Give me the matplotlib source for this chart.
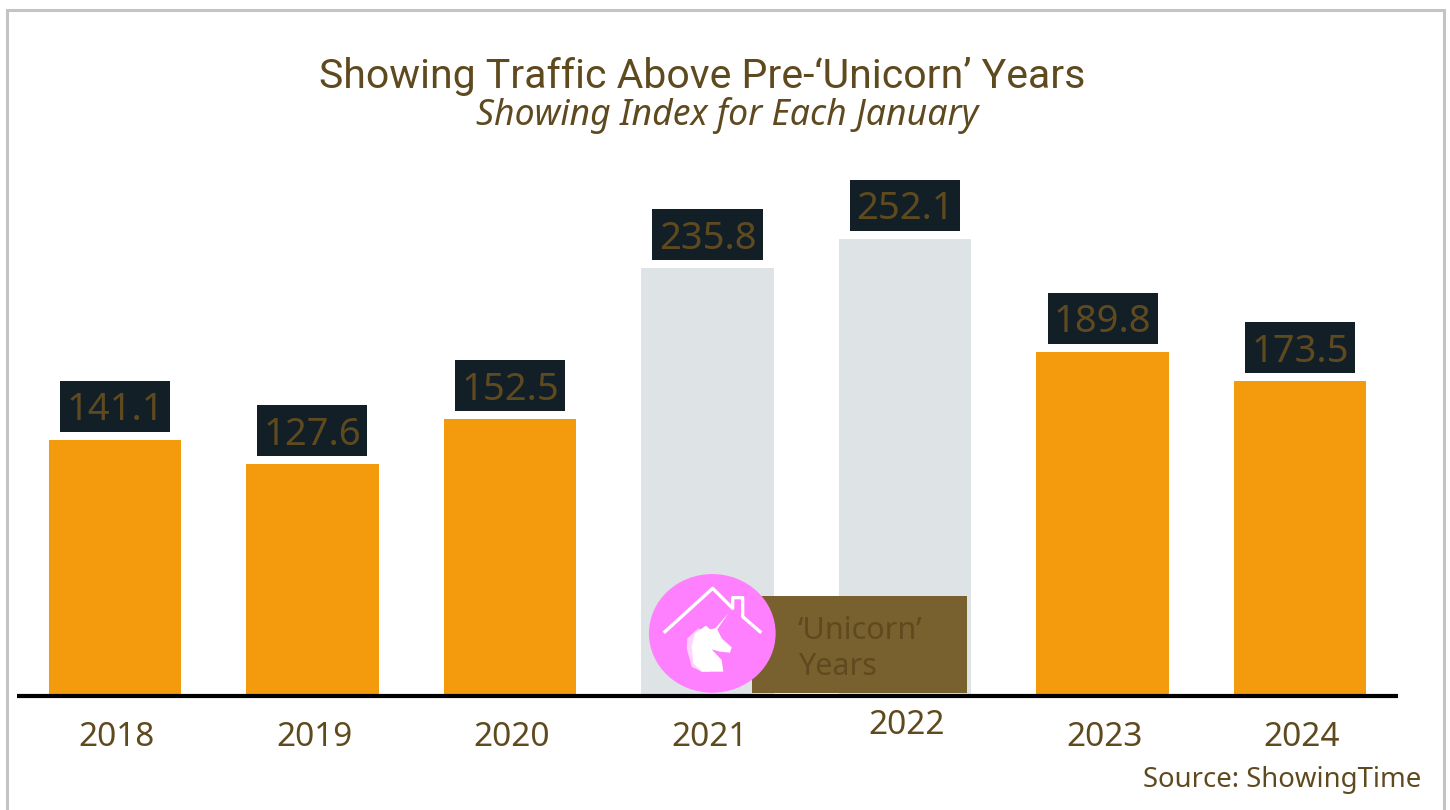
# showing traffic bars, Jan index by year
import matplotlib
matplotlib.use("Agg")
import matplotlib.pyplot as plt
from matplotlib.patches import Rectangle, Ellipse, Polygon
from matplotlib.lines import Line2D
from matplotlib.transforms import ScaledTranslation

years = ["2018", "2019", "2020", "2021", "2022", "2023", "2024"]
values = [141.1, 127.6, 152.5, 235.8, 252.1, 189.8, 173.5]
unicorn_years = ["2021", "2022"]

orange = "#F39A0D"
grey = "#DEE3E6"
brown = "#5F4A1F"
label_bg = "#121F27"
note_bg = "#78602F"
pink = "#FF80FF"

W = 1450
H = 810
fig = plt.figure(figsize=(14.5, 8.1), dpi=100)

# helper, picture pixels to figure fractions
def fx(x):
    return x / W
def fy(y):
    return 1 - y / H

# outer frame
fig.add_artist(Rectangle((fx(7), fy(830)), fx(1437), 820 / H, fill=False, edgecolor="#C4C4C4", linewidth=2.2, transform=fig.transFigure))

ax = fig.add_axes([fx(17), fy(695.5), fx(1381), 545.5 / H])
ax.patch.set_alpha(0)
ax.set_xlim(-0.496, 6.496)
ax.set_ylim(0, 545.5 / 1.812)

colors = [grey if y in unicorn_years else orange for y in years]
ax.bar(range(len(years)), values, width=0.672, color=colors, zorder=2)

# value labels sit in dark boxes just above the bars
box_w = 0.557
box_h = 28.2
box_gap = 4.4
for i, v in enumerate(values):
    ax.add_patch(Rectangle((i - box_w / 2, v + box_gap), box_w, box_h, facecolor=label_bg, edgecolor="none", zorder=3))
    ax.text(i, v + box_gap + box_h / 2 - 2.2, f"{v:.1f}", ha="center", va="center", fontsize=27.5, color=brown, family="Noto Sans", zorder=4)

for s in ["top", "left", "right"]:
    ax.spines[s].set_visible(False)
ax.spines["bottom"].set_linewidth(3)
ax.spines["bottom"].set_color("black")
ax.spines["bottom"].set_capstyle("butt")
ax.spines["bottom"].set_zorder(6)
ax.set_yticks([])
ax.set_xticks(range(len(years)))
ax.set_xticklabels(years, fontsize=24, color=brown, family="Noto Sans")
ax.tick_params(axis="x", length=0, pad=18)
# 2022 label sits a bit higher in the original
ax.xaxis.get_major_ticks()[4].set_pad(9.5)
# labels are a touch right of the bar centres
for lab in ax.get_xticklabels():
    lab.set_transform(lab.get_transform() + ScaledTranslation(2 / 100, 0, fig.dpi_scale_trans))

fig.text(fx(702), fy(77), "Showing Traffic Above Pre-\u2018Unicorn\u2019 Years", ha="center", va="center", fontsize=29.5, color=brown, family="Roboto")
fig.text(fx(727), fy(115), "Showing Index for Each January", ha="center", va="center", fontsize=25.6, color=brown, family="Noto Sans", style="italic")
fig.text(fx(1421), fy(780), "Source: ShowingTime", ha="right", va="center", fontsize=19.8, color=brown, family="Noto Sans")

# unicorn years note
fig.add_artist(Rectangle((fx(752), fy(693)), fx(215), 97 / H, facecolor=note_bg, edgecolor="none", transform=fig.transFigure, zorder=5))
fig.text(fx(798), fy(631), "\u2018Unicorn\u2019", ha="left", va="center", fontsize=22, color=brown, family="Noto Sans", zorder=6)
fig.text(fx(798), fy(667), "Years", ha="left", va="center", fontsize=22, color=brown, family="Noto Sans", zorder=6)

# badge: pink circle with house and unicorn head, pixels from the picture
badge = fig.add_axes([fx(630), fy(760), fx(350), 200 / H], zorder=7)
badge.set_xlim(630, 980)
badge.set_ylim(760, 560)
badge.axis("off")
badge.patch.set_alpha(0)
badge.add_patch(Ellipse((712.3, 633.4), 126.7, 118.7, facecolor=pink, edgecolor="none"))

def zoomed(pts):
    return [(630 + a / 3, 560 + b / 3) for a, b in pts]

roof = zoomed([(105, 215), (248, 85), (308, 145), (308, 113), (338, 113), (338, 170), (390, 215)])
badge.add_line(Line2D([p[0] for p in roof], [p[1] for p in roof], color="white", linewidth=2.4))
mane = zoomed([(205, 205), (172, 235), (170, 265), (185, 320), (215, 335), (240, 335), (240, 220)])
badge.add_patch(Polygon(mane, closed=True, facecolor="#FFD2FF", edgecolor="none"))
head = zoomed([(295, 160), (262, 208), (275, 235), (305, 262), (300, 278), (270, 275), (245, 268), (275, 300), (280, 335),
               (215, 335), (190, 310), (185, 260), (195, 220), (228, 197), (240, 208), (256, 205)])
badge.add_patch(Polygon(head, closed=True, facecolor="white", edgecolor="none"))

fig.savefig("out.png", dpi=100)
